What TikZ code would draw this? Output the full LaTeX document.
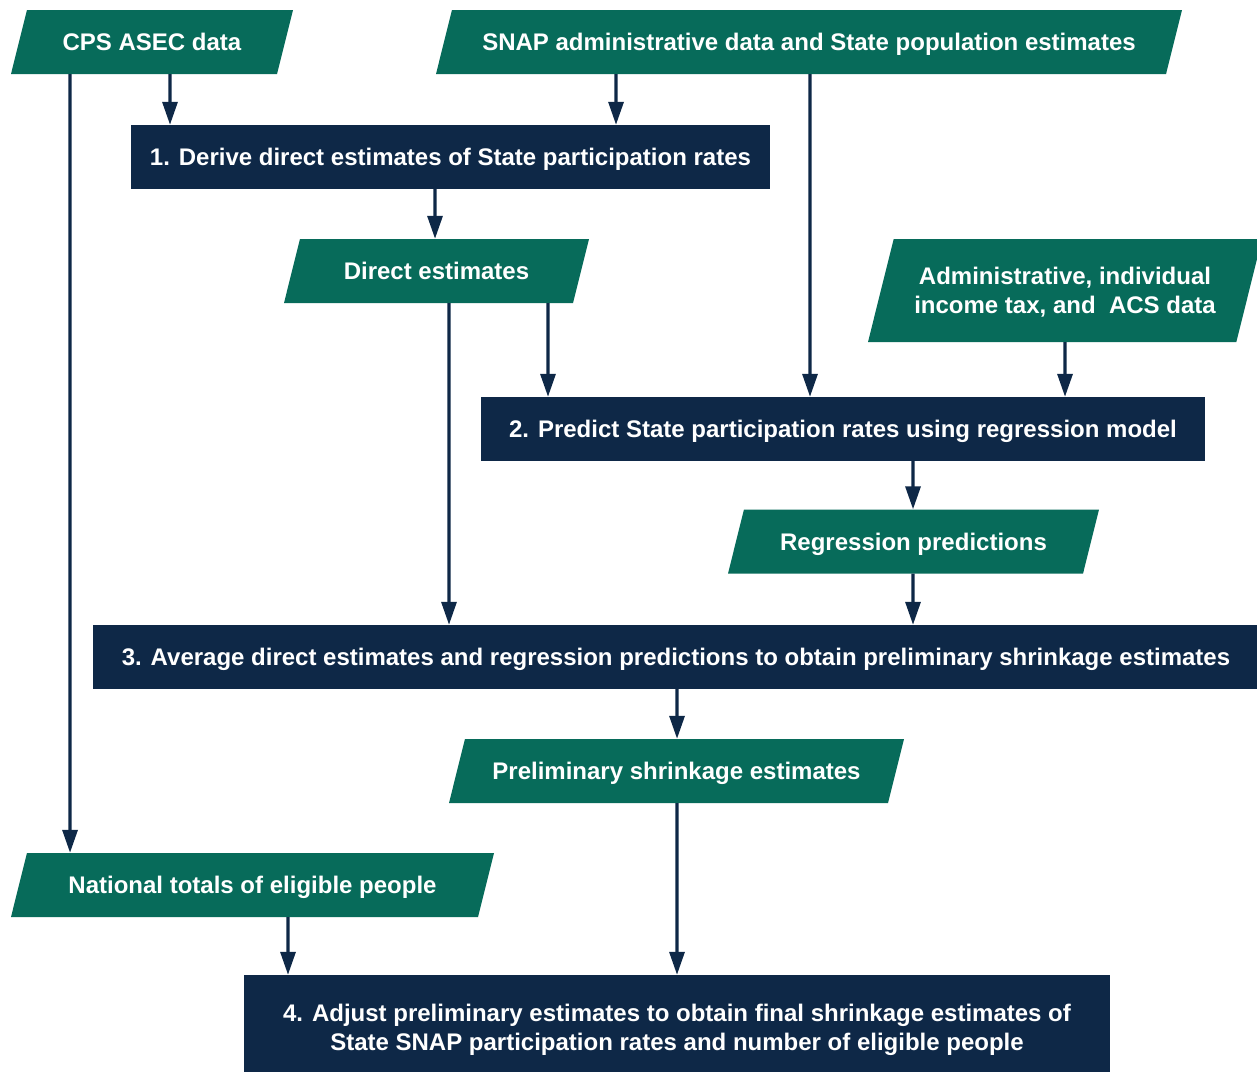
\documentclass[tikz,border=0pt]{standalone}
\usepackage{fontspec}
\setmainfont{Liberation Sans}
\usepackage{xcolor}
\usepackage{tikz}
\usetikzlibrary{shapes.geometric,arrows.meta}
\definecolor{snapgreen}{RGB}{7, 107, 90}
\definecolor{snapnavy}{RGB}{14, 40, 71}

\begin{document}
\begin{tikzpicture}[x=1pt, y=-1pt,
    data/.style={trapezium, trapezium left angle=76, trapezium right angle=104,
        trapezium stretches body, fill=snapgreen, text=white, inner xsep=0pt, inner ysep=20.5pt,
        text height=20pt, text depth=3pt,
        font=\bfseries\fontsize{24}{29}\selectfont, align=center},
    stage/.style={rectangle, fill=snapnavy, text=white, inner sep=0pt,
        text height=20pt, text depth=3pt,
        font=\bfseries\fontsize{24}{29}\selectfont, align=center},
    flow/.style={snapnavy, line width=3.2pt, -{Triangle[width=15pt,length=23pt]}}]
    \useasboundingbox (0,0) rectangle (1257,1072);

    % Input data
    \node[data, minimum width=282pt] (cps) at (152,42) {CPS ASEC data};
    \node[data, minimum width=746pt] (snap) at (809,42)
        {SNAP administrative data and State population estimates};

    % Step 1
    \node[stage, minimum width=639pt, minimum height=64pt] (derive) at (450.5,157)
        {1. Derive direct estimates of State participation rates};
    \node[data, minimum width=305pt] (direct) at (436.5,271) {Direct estimates};
    \node[data, minimum width=394pt, text height=49pt, inner ysep=25.5pt] (admin) at (1065,290.5)
        {Administrative, individual\\income tax, and~ ACS data};

    % Step 2
    \node[stage, minimum width=724pt, minimum height=64pt] (predict) at (843,429)
        {2. Predict State participation rates using regression model};
    \node[data, minimum width=371pt] (regr) at (913.5,541.5) {Regression predictions};

    % Step 3
    \node[stage, minimum width=1166pt, minimum height=64pt] (average) at (676,657)
        {3. Average direct estimates and regression predictions to obtain preliminary shrinkage estimates};
    \node[data, minimum width=455pt] (prelim) at (676.5,771) {Preliminary shrinkage estimates};
    \node[data, minimum width=483pt] (natl) at (252.5,885) {National totals of eligible people};

    % Step 4
    \node[stage, minimum width=866pt, minimum height=97pt, text height=56pt] (adjust) at (677,1023.5)
        {4. Adjust preliminary estimates to obtain final shrinkage estimates of\\State SNAP participation rates and number of eligible people};

    % Flow arrows
    \draw[flow] ([xshift=-82pt]cps.south) -- ([xshift=-182.5pt]natl.north);
    \draw[flow] ([xshift=18pt]cps.south) -- ([xshift=-280.5pt]derive.north);
    \draw[flow] ([xshift=-193pt]snap.south) -- ([xshift=165.5pt]derive.north);
    \draw[flow] ([xshift=1pt]snap.south) -- ([xshift=-33pt]predict.north);
    \draw[flow] ([xshift=-15.5pt]derive.south) -- ([xshift=-1.5pt]direct.north);
    \draw[flow] ([xshift=12.5pt]direct.south) -- ([xshift=-227pt]average.north);
    \draw[flow] ([xshift=111.5pt]direct.south) -- ([xshift=-295pt]predict.north);
    \draw[flow] ([xshift=0pt]admin.south) -- ([xshift=222pt]predict.north);
    \draw[flow] ([xshift=70pt]predict.south) -- ([xshift=-0.5pt]regr.north);
    \draw[flow] ([xshift=-0.5pt]regr.south) -- ([xshift=237pt]average.north);
    \draw[flow] ([xshift=1pt]average.south) -- ([xshift=0.5pt]prelim.north);
    \draw[flow] ([xshift=0.5pt]prelim.south) -- ([xshift=0pt]adjust.north);
    \draw[flow] ([xshift=35.5pt]natl.south) -- ([xshift=-389pt]adjust.north);
\end{tikzpicture}
\end{document}
